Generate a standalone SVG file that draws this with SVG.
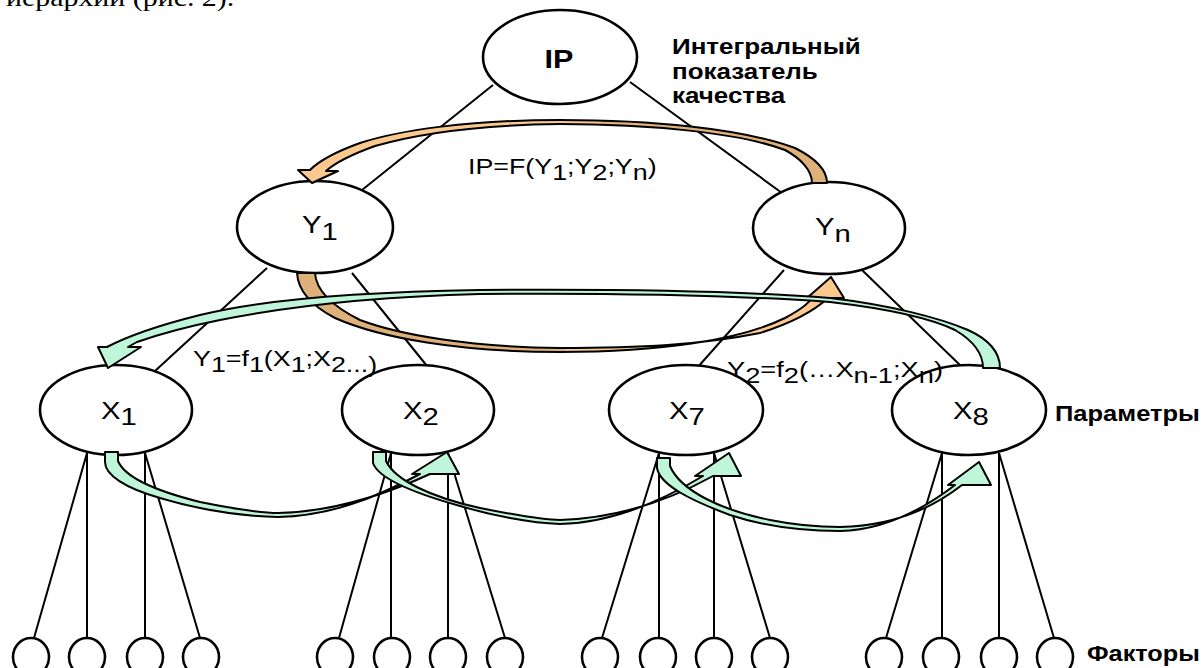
<svg xmlns="http://www.w3.org/2000/svg" width="1203" height="668" viewBox="0 0 1203 668">
<defs>
<style>
.ln{stroke:#000;stroke-width:2;fill:none}
.nd{fill:#fff;stroke:#000;stroke-width:2.6}
.fc{fill:#fff;stroke:#000;stroke-width:2.6}
.gr{fill:#bff6da;stroke:#000;stroke-width:2;stroke-linejoin:round}
.t{font-family:"Liberation Sans",Arial,sans-serif;fill:#000}
.b{font-weight:bold}
.lbl{font-size:24px}
.frm{font-size:22px}
.cap{font-size:22px;font-weight:bold}
.top{font-family:"Liberation Serif","Times New Roman",serif;font-size:26px;fill:#000}
</style>
<linearGradient id="upOr" gradientUnits="userSpaceOnUse" x1="0" y1="0" x2="1203" y2="0">
<stop offset="0.5" stop-color="#fbc98f"/><stop offset="0.5" stop-color="#e0b07a"/>
</linearGradient>
<linearGradient id="loOr" gradientUnits="userSpaceOnUse" x1="0" y1="0" x2="1203" y2="0">
<stop offset="0.47" stop-color="#e0b07a"/><stop offset="0.47" stop-color="#fbc98f"/>
</linearGradient>
</defs>
<rect width="1203" height="668" fill="#fff"/>
<text class="top" transform="translate(6,6) scale(1.15 1)">иерархии (рис. 2).</text>

<g id="connectors">
<path class="ln" d="M493,85L362,190M630,82L782,193M267,268L155,371M352,273L427,366M784,270L697,368M862,270L963,368"/>
<path class="ln" d="M87,453L34,638M87,453L87,638M145,453L145,638M145,453L200,638"/>
<path class="ln" d="M391,453L339,638M391,453L391,638M448,453L448,638M448,453L505,638"/>
<path class="ln" d="M659,453L602,638M659,453L659,638M714,453L714,638M714,453L770,638"/>
<path class="ln" d="M942,453L886,638M942,453L942,638M999,453L999,638M999,453L1054,638"/>
</g>

<g id="node-IP"><ellipse class="nd" cx="560" cy="57" rx="77" ry="47"/><text class="t b" font-size="25" text-anchor="middle" transform="translate(559,68) scale(1.22 1)">IP</text></g>
<g id="node-Y1"><ellipse class="nd" cx="315" cy="227" rx="78" ry="46"/><text class="t lbl" transform="translate(302,233) scale(1.22 1)">Y<tspan dy="7">1</tspan></text></g>
<g id="node-Yn"><ellipse class="nd" cx="829" cy="228" rx="76" ry="46"/><text class="t lbl" transform="translate(815,235) scale(1.22 1)">Y<tspan dy="7">n</tspan></text></g>
<g id="node-X1"><ellipse class="nd" cx="116" cy="410" rx="76" ry="45"/><text class="t lbl" transform="translate(101,419) scale(1.22 1)">X<tspan dy="6">1</tspan></text></g>
<g id="node-X2"><ellipse class="nd" cx="418" cy="410" rx="76" ry="45"/><text class="t lbl" transform="translate(403,419) scale(1.22 1)">X<tspan dy="6">2</tspan></text></g>
<g id="node-X7"><ellipse class="nd" cx="686" cy="410" rx="77" ry="45"/><text class="t lbl" transform="translate(669,419) scale(1.22 1)">X<tspan dy="6">7</tspan></text></g>
<g id="node-X8"><ellipse class="nd" cx="969" cy="410" rx="77" ry="45"/><text class="t lbl" transform="translate(953,419) scale(1.22 1)">X<tspan dy="6">8</tspan></text></g>

<g id="factor-1"><ellipse class="fc" cx="31" cy="657" rx="18" ry="19"/></g>
<g id="factor-2"><ellipse class="fc" cx="87" cy="657" rx="18" ry="19"/></g>
<g id="factor-3"><ellipse class="fc" cx="145" cy="657" rx="18" ry="19"/></g>
<g id="factor-4"><ellipse class="fc" cx="201" cy="657" rx="18" ry="19"/></g>
<g id="factor-5"><ellipse class="fc" cx="335" cy="657" rx="18" ry="19"/></g>
<g id="factor-6"><ellipse class="fc" cx="392" cy="657" rx="18" ry="19"/></g>
<g id="factor-7"><ellipse class="fc" cx="448" cy="657" rx="18" ry="19"/></g>
<g id="factor-8"><ellipse class="fc" cx="505" cy="657" rx="18" ry="19"/></g>
<g id="factor-9"><ellipse class="fc" cx="600" cy="657" rx="18" ry="19"/></g>
<g id="factor-10"><ellipse class="fc" cx="658" cy="657" rx="18" ry="19"/></g>
<g id="factor-11"><ellipse class="fc" cx="714" cy="657" rx="18" ry="19"/></g>
<g id="factor-12"><ellipse class="fc" cx="770" cy="657" rx="18" ry="19"/></g>
<g id="factor-13"><ellipse class="fc" cx="884" cy="657" rx="18" ry="19"/></g>
<g id="factor-14"><ellipse class="fc" cx="941" cy="657" rx="18" ry="19"/></g>
<g id="factor-15"><ellipse class="fc" cx="999" cy="657" rx="18" ry="19"/></g>
<g id="factor-16"><ellipse class="fc" cx="1055" cy="657" rx="18" ry="19"/></g>

<g id="flow-connectors">
<path fill="url(#upOr)" stroke="#000" stroke-width="2" stroke-linejoin="round" d="M812,183L827,183C827,170 815,158 795,148C740,128 650,120 560,120C470,120 400,130 360,143C335,152 318,162 310,170L298,170L312,183L338,171L326,171C335,163 350,155 375,146C420,133 480,125 560,124C650,124 740,133 785,150C800,158 812,170 812,183Z"/>
<path fill="url(#loOr)" stroke="#000" stroke-width="2" stroke-linejoin="round" d="M297,273C298,290 310,305 335,318C380,338 460,352 560,352C660,352 740,340 785,318C800,310 808,304 812,298L807,298L831,277L844,298L828,298C815,310 795,322 760,333C700,345 640,348 560,348C470,347 400,335 360,320C330,305 316,290 315,273Z"/>
<path class="gr" d="M983,368L1000,368C1000,352 990,340 968,330C940,318 890,305 830,298C730,290 600,289 480,290C360,292 260,300 200,315C160,325 130,335 107,347L98,347L108,368L141,347L128,347L137,342C160,334 190,326 220,320C280,308 360,297 480,294C600,293 730,295 830,302C890,309 930,318 955,330C972,340 983,352 983,368Z"/>
<path class="gr" d="M105,452L118,452L118,461C125,478 160,492 200,502C240,510 260,513 278,513C330,512 380,497 430,474L459,474L447,452L412,474L420,474C375,498 330,516 278,517C240,516 200,510 160,498C125,488 105,475 105,462Z"/>
<path class="gr" d="M373,452L386,452L386,461C395,480 430,497 480,508C520,516 545,520 560,520C620,518 670,500 713,476L741,476L729,453L695,476L703,476C660,502 610,523 560,524C530,523 490,515 460,506C410,492 378,478 373,463Z"/>
<path class="gr" d="M657,458L670,458L670,466C680,490 720,510 770,520C800,526 820,527 840,527C890,526 930,510 962,485L991,485L979,462L948,485L955,485C925,508 885,530 840,531C800,531 760,525 730,515C690,500 660,485 657,468Z"/>
</g>

<g id="labels">
<text class="t cap" transform="translate(672,54) scale(1.18 1)">Интегральный</text>
<text class="t cap" transform="translate(672,79) scale(1.18 1)">показатель</text>
<text class="t cap" transform="translate(672,103) scale(1.18 1)">качества</text>
<text class="t frm" transform="translate(468,174) scale(1.22 1)">IP=F(Y<tspan dy="6">1</tspan><tspan dy="-6">;Y</tspan><tspan dy="6">2</tspan><tspan dy="-6">;Y</tspan><tspan dy="6">n</tspan><tspan dy="-6">)</tspan></text>
<text class="t frm" transform="translate(193,366) scale(1.22 1)">Y<tspan dy="6">1</tspan><tspan dy="-6">=f</tspan><tspan dy="6">1</tspan><tspan dy="-6">(X</tspan><tspan dy="6">1</tspan><tspan dy="-6">;X</tspan><tspan dy="6">2...)</tspan></text>
<text class="t frm" transform="translate(727,377) scale(1.24 1)">Y<tspan dy="6">2</tspan><tspan dy="-6">=f</tspan><tspan dy="6">2</tspan><tspan dy="-6">(…X</tspan><tspan dy="6">n-1</tspan><tspan dy="-6">;X</tspan><tspan dy="6">n</tspan><tspan dy="-6">)</tspan></text>
<text class="t cap" font-size="21" transform="translate(1055,421) scale(1.16 1)">Параметры</text>
<text class="t cap" font-size="21" transform="translate(1087,661) scale(1.15 1)">Факторы</text>
</g>
</svg>
